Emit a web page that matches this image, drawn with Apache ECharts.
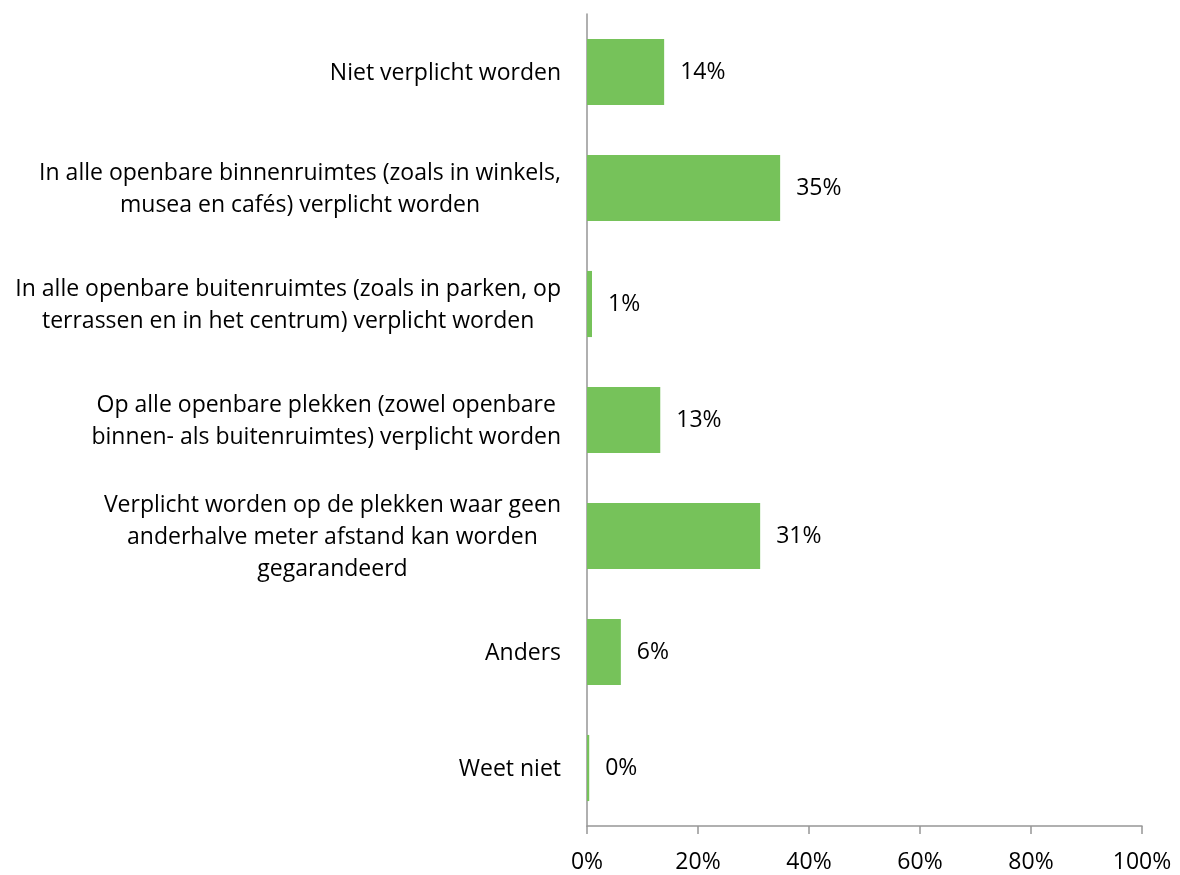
<!DOCTYPE html>
<html>
<head>
<meta charset="utf-8">
<script src="https://cdn.jsdelivr.net/npm/echarts@6/dist/echarts.min.js"></script>
<style>
  html, body { margin: 0; padding: 0; background: #fff; }
  #chart { width: 1180px; height: 875px; }
</style>
</head>
<body>
<div id="chart"></div>
<script>
// categories, top to bottom
var categories = [
  'Niet verplicht worden',
  'In alle openbare binnenruimtes (zoals in winkels,\nmusea en cafés) verplicht worden',
  'In alle openbare buitenruimtes (zoals in parken, op\nterrassen en in het centrum) verplicht worden',
  'Op alle openbare plekken (zowel openbare\nbinnen- als buitenruimtes) verplicht worden',
  'Verplicht worden op de plekken waar geen\nanderhalve meter afstand kan worden\ngegarandeerd',
  'Anders',
  'Weet niet'
];
// percentages
var values = [13.9, 34.8, 0.9, 13.2, 31.2, 6.1, 0.4];
var xTicks = [0, 20, 40, 60, 80, 100];

var font = '"Open Sans", Lato, sans-serif';
var fs = 23;
var myChart = echarts.init(document.getElementById('chart'));

var option = {
  animation: false,
  grid: { left: 587, right: 38, top: 14, bottom: 49 },
  xAxis: {
    type: 'value',
    min: 0,
    max: 100,
    interval: 20,
    axisLine: { show: true, lineStyle: { color: '#969696', width: 1.5 } },
    axisTick: { show: true, length: 8, lineStyle: { color: '#969696', width: 1.5 } },
    splitLine: { show: false },
    axisLabel: {
      margin: 25,
      color: '#000',
      fontSize: fs,
      fontFamily: font,
      formatter: function (v) { return xTicks.indexOf(v) >= 0 ? v + '%' : ''; }
    }
  },
  yAxis: {
    type: 'category',
    inverse: true,
    data: categories,
    axisLine: { show: true, lineStyle: { color: '#969696', width: 1.5 } },
    axisTick: { show: false },
    axisLabel: {
      margin: 26,
      align: 'right',
      color: '#000',
      fontSize: fs,
      fontFamily: font,
      formatter: function (v) { return '{c|' + v + '}'; },
      rich: {
        c: { align: 'center', fontSize: fs, lineHeight: 32, fontFamily: font, color: '#000', padding: [3, 0, 0, 0] }
      }
    }
  },
  series: [{
    type: 'bar',
    data: values,
    barWidth: '57%',
    itemStyle: { color: '#76c25a' },
    label: {
      show: true,
      position: 'right',
      distance: 16,
      color: '#000',
      fontSize: fs,
      fontFamily: font,
      formatter: function (p) { return Math.round(p.value) + '%'; }
    }
  }]
};
myChart.setOption(option);
</script>
</body>
</html>
